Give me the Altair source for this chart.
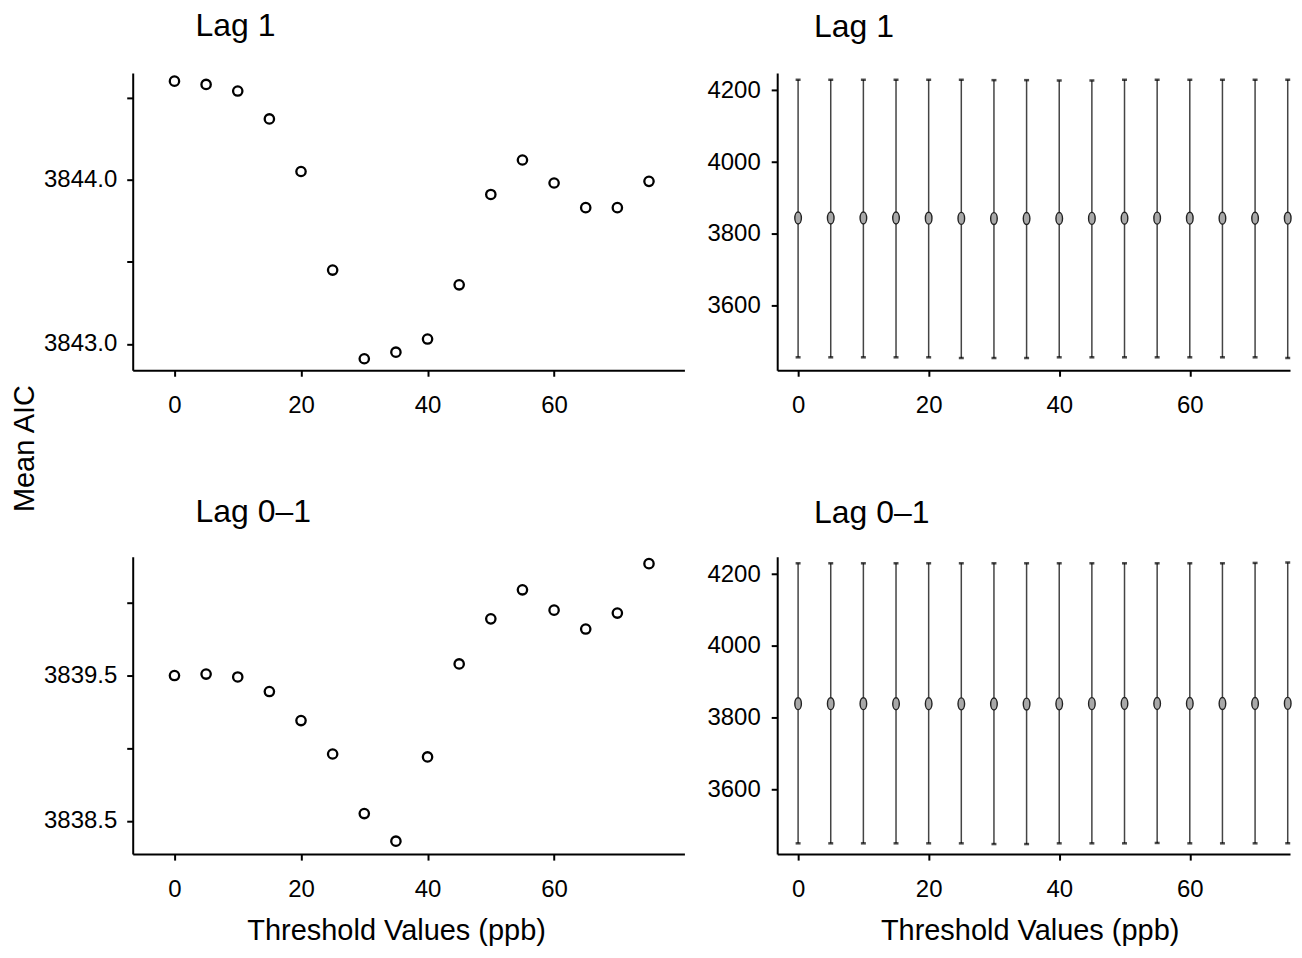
import altair as alt
import pandas as pd

FONT = "Liberation Sans"

thresholds = [0, 5, 10, 15, 20, 25, 30, 35, 40, 45, 50, 55, 60, 65, 70, 75]

lag1_aic = [3844.60, 3844.58, 3844.54, 3844.37, 3844.05, 3843.45, 3842.91, 3842.95,
            3843.03, 3843.36, 3843.91, 3844.12, 3843.98, 3843.83, 3843.83, 3843.99]
lag01_aic = [3839.50, 3839.51, 3839.49, 3839.39, 3839.19, 3838.96, 3838.55, 3838.36,
             3838.94, 3839.58, 3839.89, 3840.09, 3839.95, 3839.82, 3839.93, 3840.27]

lag1_lower = [3457, 3457, 3457, 3457, 3457, 3455, 3455, 3455,
              3457, 3457, 3457, 3457, 3457, 3457, 3457, 3455]
lag1_upper = [4229, 4229, 4229, 4229, 4229, 4229, 4228, 4228,
              4227, 4227, 4229, 4229, 4229, 4229, 4229, 4229]
lag01_lower = [3451, 3451, 3451, 3451, 3451, 3451, 3449, 3449,
               3451, 3451, 3451, 3452, 3451, 3451, 3451, 3451]
lag01_upper = [4230, 4230, 4230, 4230, 4230, 4230, 4230, 4230,
               4230, 4230, 4230, 4230, 4230, 4230, 4231, 4232]

df1 = pd.DataFrame({"threshold": thresholds, "aic": lag1_aic, "lo": lag1_lower, "hi": lag1_upper})
df01 = pd.DataFrame({"threshold": thresholds, "aic": lag01_aic, "lo": lag01_lower, "hi": lag01_upper})

LEFT_W, RIGHT_W, H = 553, 514, 298
ELLIPSE = "M0,-1 A0.55,1 0 1,1 0,1 A0.55,1 0 1,1 0,-1 Z"
TITLE_SIZE = 32


def title(text, dx, offset):
    return alt.TitleParams(text=text, anchor="start", frame="group", dx=dx, offset=offset,
                           baseline="alphabetic", fontSize=TITLE_SIZE, font=FONT,
                           fontWeight="normal", color="black")


def xaxis_for(bottom, tx):
    if bottom:
        return alt.Axis(values=[0, 20, 40, 60], title="Threshold Values (ppb)",
                        titleX=tx, titleY=86, titleBaseline="alphabetic",
                        titleAlign="center", labelPadding=17, labelFlush=False)
    return alt.Axis(values=[0, 20, 40, 60], title=None, labelPadding=17, labelFlush=False)


def left_panel(df, ttl, ydom, yvals, label_expr, bottom, mean_title, t_off):
    if mean_title:
        yaxis = alt.Axis(values=yvals, labelExpr=label_expr, title="Mean AIC",
                         titleX=-99, titleY=376, titleAngle=270, titleAlign="center",
                         titleBaseline="alphabetic", labelPadding=10, labelFlush=False)
    else:
        yaxis = alt.Axis(values=yvals, labelExpr=label_expr, title=None,
                         labelPadding=10, labelFlush=False)
    return alt.Chart(df).mark_point(shape="circle", filled=False, size=88,
                                    strokeWidth=2.3, color="black", opacity=1).encode(
        x=alt.X("threshold:Q", scale=alt.Scale(domain=[-6.6, 80.6], nice=False, zero=False),
                axis=xaxis_for(bottom, 264)),
        y=alt.Y("aic:Q", scale=alt.Scale(domain=ydom, nice=False, zero=False), axis=yaxis),
    ).properties(width=LEFT_W, height=H, title=title(ttl, 63, t_off))


def right_panel(df, ttl, bottom, t_off):
    xaxis = xaxis_for(bottom, 253)
    yaxis = alt.Axis(values=[3600, 3800, 4000, 4200], format="d", title=None,
                     labelPadding=11, labelFlush=False)
    x = alt.X("threshold:Q", scale=alt.Scale(domain=[-3.2, 75.35], nice=False, zero=False), axis=xaxis)
    yscale = alt.Scale(domain=[3421, 4248], nice=False, zero=False)
    base = alt.Chart(df)
    rule = base.mark_rule(color="#444444", strokeWidth=1.5).encode(
        x=x, y=alt.Y("lo:Q", scale=yscale, axis=yaxis), y2="hi:Q")
    cap_lo = base.mark_tick(orient="horizontal", size=5, thickness=2.5, color="black").encode(
        x=x, y=alt.Y("lo:Q", scale=yscale, axis=yaxis))
    cap_hi = base.mark_tick(orient="horizontal", size=5, thickness=2.5, color="black").encode(
        x=x, y=alt.Y("hi:Q", scale=yscale, axis=yaxis))
    center = base.mark_point(shape=ELLIPSE, size=144, filled=True, fill="#a8a8a8",
                             stroke="#222222", strokeWidth=1.4, opacity=1).encode(
        x=x, y=alt.Y("aic:Q", scale=yscale, axis=yaxis))
    return alt.layer(rule, cap_lo, cap_hi, center).properties(
        width=RIGHT_W, height=H, title=title(ttl, 37, t_off))


tl = left_panel(df1, "Lag 1", [3842.84, 3844.65], [3843.0, 3843.5, 3844.0, 3844.5],
                "datum.value % 1 == 0 ? format(datum.value, '.1f') : ''", False, True, 4)
bl = left_panel(df01, "Lag 0\u20131", [3838.271, 3840.317], [3838.5, 3839.0, 3839.5, 3840.0],
                "datum.value % 1 != 0 ? format(datum.value, '.1f') : ''", True, False, 0)
tr = right_panel(df1, "Lag 1", False, 4)
br = right_panel(df01, "Lag 0\u20131", True, 2)

chart = alt.concat(tl, tr, bl, br, columns=2, spacing={"row": 187, "column": 93},
                   bounds="flush").properties(
    padding={"left": 3, "top": 0, "right": 0, "bottom": 0}
).configure_view(stroke=None).configure_axis(
    domainColor="black", domainWidth=2, tickColor="black", tickWidth=2, tickSize=6,
    labelFont=FONT, labelFontSize=24, labelColor="black", grid=False,
    titleFont=FONT, titleFontSize=29, titleFontWeight="normal", titleColor="black",
).configure_title(font=FONT)

chart.save("out.html", embed_options={"renderer": "svg", "actions": False})
